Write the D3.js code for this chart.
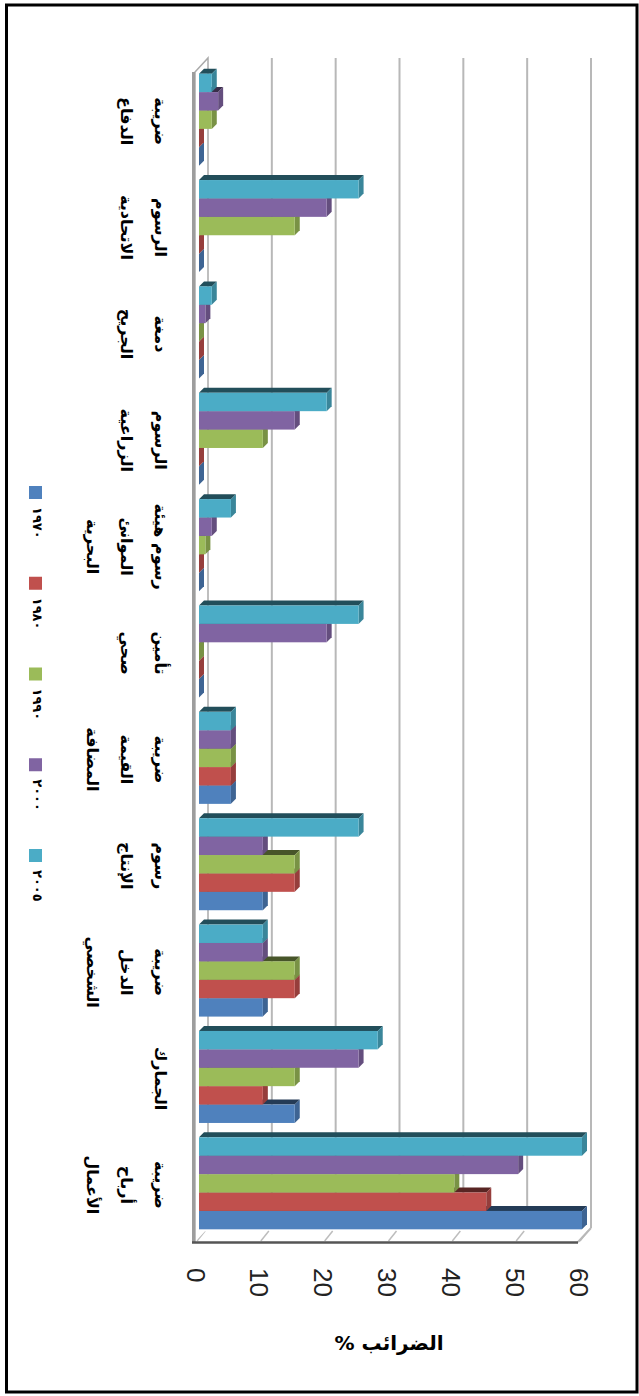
<!DOCTYPE html>
<html>
<head>
<meta charset="utf-8">
<title>الضرائب</title>
<script src="https://cdn.jsdelivr.net/npm/d3@7"></script>
<style>
body { margin: 0; background: #fff; }
svg { display: block; }
</style>
</head>
<body>
<script>
// categories from bottom to top, each split into its label lines
var categories = ["ضريبة أرباح الأعمال", "الجمارك", "ضريبة الدخل الشخصي", "رسوم الإنتاج",
  "ضريبة القيمة المضافة", "تأمين صحي", "رسوم هيئة الموانئ البحرية", "الرسوم الزراعية",
  "دمغة الجريح", "الرسوم الاتحادية", "ضريبة الدفاع"];
var categoryLines = [["ضريبة", "أرباح", "الأعمال"], ["الجمارك"], ["ضريبة", "الدخل", "الشخصي"],
  ["رسوم", "الإنتاج"], ["ضريبة", "القيمة", "المضافة"], ["تأمين", "صحي"],
  ["رسوم هيئة", "الموانئ", "البحرية"], ["الرسوم", "الزراعية"], ["دمغة", "الجريح"],
  ["الرسوم", "الاتحادية"], ["ضريبة", "الدفاع"]];

var seriesNames = ["١٩٧٠", "١٩٨٠", "١٩٩٠", "٢٠٠٠", "٢٠٠٥"];
var v1970 = [60, 15, 10, 10, 5, 0, 0, 0, 0, 0, 0];
var v1980 = [45, 10, 15, 15, 5, 0, 0, 0, 0, 0, 0];
var v1990 = [40, 15, 15, 15, 5, 0, 1, 10, 0, 15, 2];
var v2000 = [50, 25, 10, 10, 5, 20, 2, 15, 1, 20, 3];
var v2005 = [60, 28, 10, 25, 5, 25, 5, 20, 2, 25, 2];
var valueTicks = [0, 10, 20, 30, 40, 50, 60];
var axisTitle = "الضرائب %";

var series = [v1970, v1980, v1990, v2000, v2005];
var colors = ["#4f81bd", "#c0504d", "#9bbb59", "#8064a2", "#4bacc6"];

var W = 639, H = 1396;
var dep = [13, -14];      // depth of the 3d box
var bOff = [4, -5.5];     // bar front offset inside the depth
var bDep = [5, -5];       // bar own depth

var svg = d3.select("body").append("svg").attr("width", W).attr("height", H);

var x = d3.scaleLinear().domain([0, 60]).range([195, 578]);
var y = d3.scaleBand().domain(d3.range(categories.length)).range([1242, 72])
  .paddingInner(0.135).paddingOuter(0.0675);
var ys = d3.scaleBand().domain(d3.range(series.length)).range([y.bandwidth(), 0]);

var yTop = 72, yBot = 1242;

// back wall gridlines
svg.selectAll("line.grid")
  .data(valueTicks.slice(1))
  .enter().append("line")
  .attr("x1", function(d) { return x(d) + dep[0]; })
  .attr("x2", function(d) { return x(d) + dep[0]; })
  .attr("y1", yTop + dep[1])
  .attr("y2", yBot + dep[1])
  .attr("stroke", "#b8b8b8")
  .attr("stroke-width", 2);

// bottom side wall with the diagonal ticks
svg.selectAll("line.diag")
  .data(valueTicks)
  .enter().append("line")
  .attr("x1", function(d) { return x(d) + 2; })
  .attr("y1", yBot - 1)
  .attr("x2", function(d) { return x(d) + dep[0] - 3; })
  .attr("y2", yBot + dep[1] + 3)
  .attr("stroke", "#bdbdbd")
  .attr("stroke-width", 1.5);
svg.append("line")
  .attr("x1", x(60)).attr("y1", yBot)
  .attr("x2", x(60) + dep[0]).attr("y2", yBot + dep[1])
  .attr("stroke", "#b8b8b8").attr("stroke-width", 2);

// left slab (floor of the original chart)
svg.append("path")
  .attr("d", "M" + x(0) + "," + yBot + "L" + x(0) + "," + yTop + "L" + (x(0) + dep[0]) + "," + (yTop + dep[1]) +
    "L" + (x(0) + dep[0]) + "," + (yBot + dep[1]))
  .attr("fill", "#fff").attr("stroke", "#aaa").attr("stroke-width", 1.5);
svg.append("rect")
  .attr("x", x(0) - 3).attr("y", yTop).attr("width", 3).attr("height", yBot - yTop)
  .attr("fill", "#9d9d9d");
svg.append("line")
  .attr("x1", x(0) - 3).attr("y1", yBot + 0.5).attr("x2", x(60)).attr("y2", yBot + 0.5)
  .attr("stroke", "#555").attr("stroke-width", 2.5);

// bars
var bars = svg.append("g");
categories.forEach(function(c, i) {
  series.forEach(function(s, j) {
    var col = d3.color(colors[j]);
    var x0 = x(0) + bOff[0], x1 = x(s[i]) + bOff[0];
    var y0 = y(i) + ys(j) + bOff[1], y1 = y0 + ys.bandwidth();
    var g = bars.append("g");
    g.append("path")
      .attr("d", "M" + x0 + "," + y0 + "L" + x1 + "," + y0 + "L" + (x1 + bDep[0]) + "," + (y0 + bDep[1]) +
        "L" + (x0 + bDep[0]) + "," + (y0 + bDep[1]) + "Z")
      .attr("fill", col.darker(2.2));
    g.append("path")
      .attr("d", "M" + x1 + "," + y0 + "L" + (x1 + bDep[0]) + "," + (y0 + bDep[1]) + "L" + (x1 + bDep[0]) + "," + (y1 + bDep[1]) +
        "L" + x1 + "," + y1 + "Z")
      .attr("fill", col.darker(0.7));
    g.append("rect")
      .attr("x", x0).attr("y", y0)
      .attr("width", x1 - x0).attr("height", ys.bandwidth())
      .attr("fill", col);
  });
});

// value axis (labels rotated)
var ax = svg.append("g").attr("transform", "translate(0,1268)")
  .call(d3.axisBottom(x).tickValues(valueTicks).tickSize(0).tickPadding(0));
ax.select(".domain").remove();
ax.selectAll("text")
  .attr("transform", "rotate(90)")
  .attr("x", 0).attr("y", 0).attr("dy", null)
  .attr("dominant-baseline", "central")
  .attr("text-anchor", "start")
  .style("font-family", "'Liberation Sans', Arial, sans-serif")
  .style("font-size", "26px")
  .attr("fill", "#222");

svg.append("text")
  .attr("x", 389).attr("y", 1350)
  .attr("text-anchor", "middle")
  .attr("direction", "rtl")
  .style("direction", "rtl")
  .style("unicode-bidi", "embed")
  .style("font-family", "'DejaVu Sans', sans-serif")
  .style("font-weight", "bold")
  .style("font-size", "20px")
  .text(axisTitle);

// category labels, rotated, one column per line
categories.forEach(function(c, i) {
  var g = svg.append("g")
    .attr("transform", "translate(160," + (y(i) + y.bandwidth() / 2 - 4) + ") rotate(90)");
  categoryLines[i].forEach(function(t, k) {
    g.append("text")
      .attr("x", 0).attr("y", k * 34)
      .attr("text-anchor", "middle")
      .attr("dominant-baseline", "central")
      .style("font-family", "'DejaVu Sans', sans-serif")
      .style("font-weight", "bold")
      .style("font-size", "16px")
      .text(t);
  });
});

// legend
var leg = svg.append("g");
seriesNames.forEach(function(n, j) {
  var ly = 486 + j * 90.75;
  leg.append("rect")
    .attr("x", 29).attr("y", ly).attr("width", 13).attr("height", 13)
    .attr("fill", colors[j]);
  leg.append("text")
    .attr("transform", "translate(37," + (ly + 21) + ") rotate(90)")
    .attr("dominant-baseline", "central")
    .attr("text-anchor", "start")
    .style("font-family", "'DejaVu Sans', sans-serif")
    .style("font-weight", "bold")
    .style("font-size", "13px")
    .attr("letter-spacing", "4px")
    .text(n);
});

// outer frame
svg.append("rect")
  .attr("x", 6.5).attr("y", 5).attr("width", 630.5).attr("height", 1387)
  .attr("fill", "none").attr("stroke", "#000").attr("stroke-width", 3);
</script>
</body>
</html>
